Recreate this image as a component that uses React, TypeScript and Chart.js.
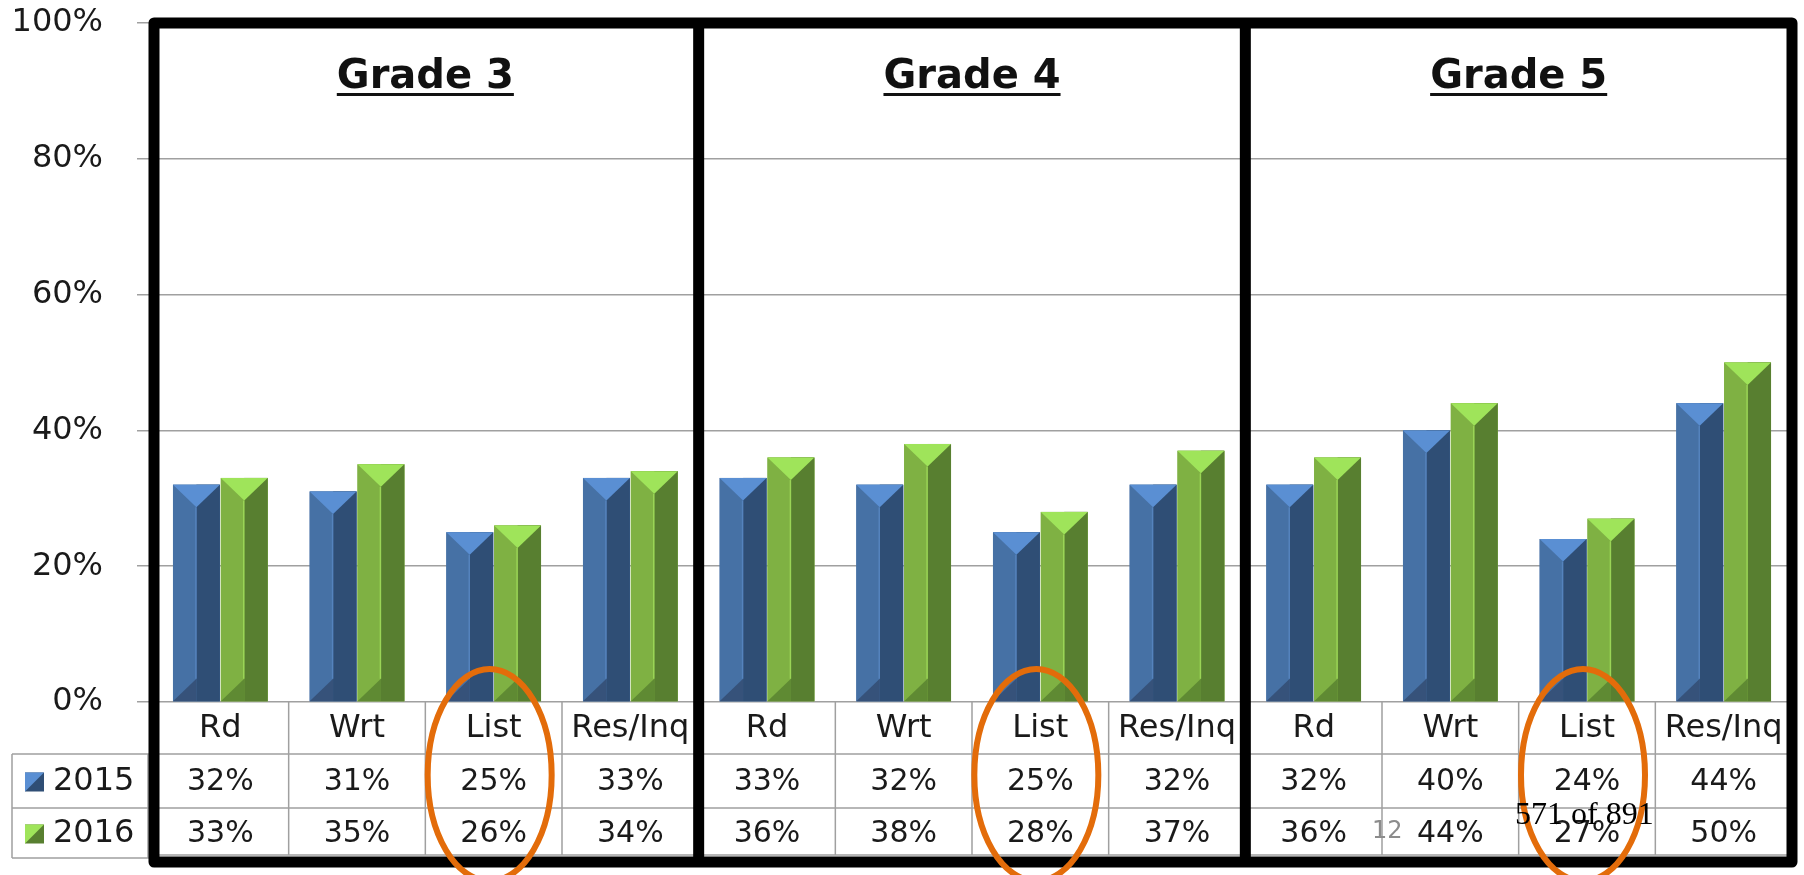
import React, { useEffect, useRef } from 'react';
import { Chart, registerables } from 'chart.js';

Chart.register(...registerables);

const categories = ['Rd', 'Wrt', 'List', 'Res/Inq', 'Rd', 'Wrt', 'List', 'Res/Inq', 'Rd', 'Wrt', 'List', 'Res/Inq'];
const gradeTitles = ['Grade 3', 'Grade 4', 'Grade 5'];
const seriesLabels = ['2015', '2016'];
const values2015 = [32, 31, 25, 33, 33, 32, 25, 32, 32, 40, 24, 44];
const values2016 = [33, 35, 26, 34, 36, 38, 28, 37, 36, 44, 27, 50];
const highlightCategory = 'List';
const slideNumber = '12';
const pageNote = '571 of 891';

const W = 1804;
const H = 875;

const palettes = [
  { left: '#4671a5', right: '#2f4e75', top: '#5a8fd3', bottom: '#36527a', line: '#5583bd' },
  { left: '#7fb143', right: '#587f30', top: '#9fe45a', bottom: '#5f8a33', line: '#9ad456' },
];

const FONT = '"DejaVu Sans", Verdana, sans-serif';

const customPlugin = {
  id: 'custom',
  afterDatasetsDraw(chart: any) {
    const ctx: CanvasRenderingContext2D = chart.ctx;
    chart.data.datasets.forEach((_ds: any, di: number) => {
      const meta = chart.getDatasetMeta(di);
      const pal = palettes[di];
      meta.data.forEach((el: any) => {
        const { x, y, base, width } = el.getProps(['x', 'y', 'base', 'width'], true);
        const l = x - width / 2;
        const r = x + width / 2;
        const hgt = base - y;
        const bev = Math.min(width * 0.48, hgt / 2);
        ctx.save();
        ctx.fillStyle = pal.left;
        ctx.fillRect(l, y, width, hgt);
        ctx.fillStyle = pal.right;
        ctx.fillRect(x, y, r - x, hgt);
        // bottom facet
        ctx.fillStyle = pal.bottom;
        ctx.beginPath();
        ctx.moveTo(l, base);
        ctx.lineTo(x, base - bev);
        ctx.lineTo(x, base);
        ctx.closePath();
        ctx.fill();
        // top facet
        ctx.fillStyle = pal.top;
        ctx.beginPath();
        ctx.moveTo(l, y);
        ctx.lineTo(r, y);
        ctx.lineTo(x, y + bev);
        ctx.closePath();
        ctx.fill();
        // ridge line
        ctx.strokeStyle = pal.line;
        ctx.lineWidth = 1.5;
        ctx.beginPath();
        ctx.moveTo(x - 0.5, y + bev);
        ctx.lineTo(x - 0.5, base - bev);
        ctx.stroke();
        ctx.restore();
      });
    });
  },
  afterDraw(chart: any) {
    const ctx: CanvasRenderingContext2D = chart.ctx;
    const area = chart.chartArea;
    const xs = chart.scales.x;
    const n = categories.length;
    const cw = (area.right - area.left) / n;
    const r0 = area.bottom;
    const r1 = r0 + 52;
    const r2 = r1 + 54;
    const r3 = r2 + 47;
    ctx.save();
    // table grid
    ctx.strokeStyle = '#a0a0a0';
    ctx.lineWidth = 1.5;
    ctx.beginPath();
    [r1, r2, r3].forEach((yy) => {
      ctx.moveTo(area.left, yy);
      ctx.lineTo(area.right, yy);
    });
    for (let i = 1; i < n; i++) {
      const xx = area.left + i * cw;
      ctx.moveTo(xx, r0);
      ctx.lineTo(xx, r3);
    }
    // legend column box
    ctx.moveTo(12, r1);
    ctx.lineTo(area.left, r1);
    ctx.moveTo(12, r2);
    ctx.lineTo(area.left, r2);
    ctx.moveTo(12, r3 + 3);
    ctx.lineTo(area.left, r3 + 3);
    ctx.moveTo(12, r1);
    ctx.lineTo(12, r3 + 3);
    ctx.moveTo(area.left - 4, r1);
    ctx.lineTo(area.left - 4, r3 + 3);
    ctx.stroke();

    // table text
    ctx.fillStyle = '#1a1a1a';
    ctx.textAlign = 'center';
    ctx.textBaseline = 'middle';
    const series = [values2015, values2016];
    categories.forEach((c, i) => {
      const cx = xs.getPixelForValue(i);
      ctx.font = `32px ${FONT}`;
      ctx.fillText(c, cx, r0 + 27);
      ctx.font = `30px ${FONT}`;
      ctx.fillText(series[0][i] + '%', cx, r1 + 28);
      ctx.fillText(series[1][i] + '%', cx, r2 + 26);
    });
    // legend entries
    ctx.textAlign = 'left';
    ctx.font = `32px ${FONT}`;
    [r1 + 28, r2 + 26].forEach((cy, si) => {
      const pal = palettes[si];
      const s = 19;
      const lx = 25;
      const ty = cy - s / 2;
      ctx.fillStyle = pal.right;
      ctx.fillRect(lx, ty, s, s);
      ctx.fillStyle = pal.top;
      ctx.beginPath();
      ctx.moveTo(lx, ty);
      ctx.lineTo(lx + s, ty);
      ctx.lineTo(lx, ty + s);
      ctx.closePath();
      ctx.fill();
      ctx.fillStyle = '#1a1a1a';
      ctx.fillText(seriesLabels[si], 53, cy);
    });

    // black frames
    const groups = gradeTitles.length;
    const per = n / groups;
    ctx.strokeStyle = '#000';
    ctx.lineWidth = 11;
    ctx.lineJoin = 'round';
    const fTop = 23;
    const fBot = r3 + 7;
    ctx.beginPath();
    ctx.rect(area.left + 2, fTop, area.right - area.left - 2, fBot - fTop);
    for (let g = 1; g < groups; g++) {
      const xx = area.left + g * per * cw;
      ctx.moveTo(xx, fTop);
      ctx.lineTo(xx, fBot);
    }
    ctx.stroke();

    // grade titles
    ctx.fillStyle = '#111';
    ctx.font = `bold 40px ${FONT}`;
    ctx.textAlign = 'center';
    ctx.textBaseline = 'alphabetic';
    gradeTitles.forEach((t, g) => {
      const cx = area.left + (g + 0.5) * per * cw;
      ctx.fillText(t, cx, 88);
      const tw = ctx.measureText(t).width;
      ctx.fillRect(cx - tw / 2, 93, tw, 3);
    });

    // orange ellipses
    ctx.strokeStyle = '#e36c0a';
    ctx.lineWidth = 6;
    categories.forEach((c, i) => {
      if (c !== highlightCategory) return;
      const cx = xs.getPixelForValue(i) - 4;
      ctx.beginPath();
      ctx.ellipse(cx, r0 + 73, 62, 106, 0, 0, Math.PI * 2);
      ctx.stroke();
    });

    // overlay notes
    ctx.fillStyle = '#8c8c8c';
    ctx.font = `24px ${FONT}`;
    ctx.textAlign = 'left';
    ctx.fillText(slideNumber, 1372, 838);
    ctx.fillStyle = '#000';
    ctx.font = '32px "Liberation Serif", "Times New Roman", serif';
    ctx.fillText(pageNote, 1515, 824);
    ctx.restore();
  },
};

export default function App() {
  const ref = useRef<HTMLCanvasElement | null>(null);
  useEffect(() => {
    if (!ref.current) return;
    const chart = new Chart(ref.current, {
      type: 'bar',
      data: {
        labels: categories,
        datasets: [
          { label: seriesLabels[0], data: values2015, backgroundColor: palettes[0].left, categoryPercentage: 0.7, barPercentage: 0.98 },
          { label: seriesLabels[1], data: values2016, backgroundColor: palettes[1].left, categoryPercentage: 0.7, barPercentage: 0.98 },
        ],
      },
      options: {
        responsive: false,
        maintainAspectRatio: false,
        devicePixelRatio: 1,
        animation: false,
        layout: { padding: { top: 23, bottom: 173, left: 0, right: 12 } },
        plugins: { legend: { display: false }, tooltip: { enabled: false } },
        scales: {
          x: { display: false },
          y: {
            min: 0,
            max: 100,
            ticks: {
              stepSize: 20,
              callback: (v: any) => v + '%',
              font: { family: FONT, size: 32 },
              color: '#1a1a1a',
              padding: 34,
            },
            grid: { color: '#a0a0a0', lineWidth: 1.5, tickLength: 15, drawTicks: true },
            border: { color: '#a0a0a0', width: 2 },
            afterFit: (s: any) => {
              s.width = 152;
              s.paddingTop = 0;
              s.paddingBottom = 0;
            },
          },
        },
      },
      plugins: [customPlugin],
    });
    return () => chart.destroy();
  }, []);
  return (
    <div style={{ position: 'fixed', left: 0, top: 0, width: W, height: H, background: '#fff', overflow: 'hidden' }}>
      <canvas ref={ref} width={W} height={H} style={{ display: 'block' }} />
    </div>
  );
}
